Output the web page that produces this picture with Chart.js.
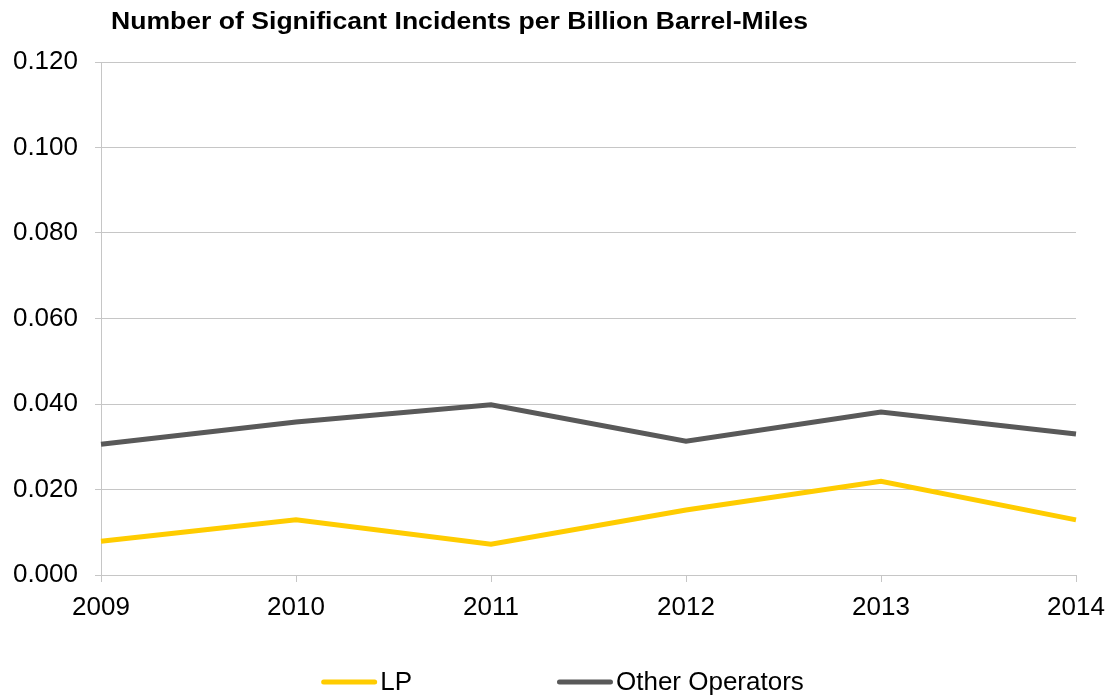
<!DOCTYPE html>
<html>
<head>
<meta charset="utf-8">
<script src="https://cdn.jsdelivr.net/npm/chart.js@4.4.1/dist/chart.umd.min.js"></script>
<style>
  html, body { margin: 0; padding: 0; background: #ffffff; }
  #wrap { width: 1111px; height: 698px; }
</style>
</head>
<body>
<div id="wrap"><canvas id="c" width="1111" height="698"></canvas></div>
<script>
// Incident rates per billion barrel-miles, by year
const years = ['2009', '2010', '2011', '2012', '2013', '2014'];
const lpValues = [0.0079, 0.0129, 0.0072, 0.0152, 0.0219, 0.0129];
const otherOperatorValues = [0.0306, 0.0358, 0.0398, 0.0313, 0.0381, 0.0330];
const yTickValues = [0, 0.02, 0.04, 0.06, 0.08, 0.10, 0.12];
const seriesNames = ['LP', 'Other Operators'];
const chartTitle = 'Number of Significant Incidents per Billion Barrel-Miles';

const FONT = '"Liberation Sans", Arial, Helvetica, sans-serif';
const GRID = '#c6c6c6';

// Bold heading drawn just right of the value axis
const titlePlugin = {
  id: 'headingText',
  afterDraw(chart) {
    const ctx = chart.ctx;
    ctx.save();
    ctx.font = 'bold 23px ' + FONT;
    ctx.fillStyle = '#000000';
    ctx.textBaseline = 'alphabetic';
    ctx.textAlign = 'left';
    const x = chart.chartArea.left + 10;
    const targetWidth = 697;
    const w = ctx.measureText(chartTitle).width;
    ctx.translate(x, 28.5);
    ctx.scale(targetWidth / w, 1);
    ctx.fillText(chartTitle, 0, 0);
    ctx.restore();
  }
};

// Line-swatch legend centred under the plot
const legendPlugin = {
  id: 'lineLegend',
  afterDraw(chart) {
    const ctx = chart.ctx;
    ctx.save();
    ctx.font = '26px ' + FONT;
    ctx.textBaseline = 'middle';
    ctx.textAlign = 'left';
    const swatch = 56, gap = 3, itemGap = 145;
    const items = chart.data.datasets.map(ds => ({
      label: ds.label, color: ds.borderColor,
      w: swatch + gap + ctx.measureText(ds.label).width
    }));
    const total = items.reduce((a, it) => a + it.w, 0) + itemGap * (items.length - 1);
    let x = (chart.width - total) / 2 + 7;
    const y = 682;
    items.forEach(it => {
      ctx.strokeStyle = it.color;
      ctx.lineWidth = 5;
      ctx.lineCap = 'round';
      ctx.beginPath();
      ctx.moveTo(x + 2.5, y);
      ctx.lineTo(x + swatch - 2.5, y);
      ctx.stroke();
      ctx.fillStyle = '#000000';
      ctx.fillText(it.label, x + swatch + gap, y + 1);
      x += it.w + itemGap;
    });
    ctx.restore();
  }
};

new Chart(document.getElementById('c'), {
  type: 'line',
  data: {
    labels: years,
    datasets: [
      {
        label: seriesNames[0],
        data: lpValues,
        borderColor: '#ffcc00',
        backgroundColor: '#ffcc00',
        borderWidth: 5,
        pointRadius: 0,
        tension: 0,
        fill: false
      },
      {
        label: seriesNames[1],
        data: otherOperatorValues,
        borderColor: '#595959',
        backgroundColor: '#595959',
        borderWidth: 5,
        pointRadius: 0,
        tension: 0,
        fill: false
      }
    ]
  },
  options: {
    responsive: false,
    animation: false,
    devicePixelRatio: 1,
    layout: { padding: { top: 62, left: 0, right: 35, bottom: 0 } },
    plugins: {
      legend: { display: false },
      title: { display: false },
      tooltip: { enabled: false }
    },
    scales: {
      x: {
        type: 'category',
        offset: false,
        afterFit(scale) {
          scale.height = 123;
          scale.paddingLeft = 0;
          scale.paddingRight = 0;
        },
        grid: {
          display: true,
          drawOnChartArea: false,
          drawTicks: true,
          tickLength: 7,
          color: GRID,
          lineWidth: 1
        },
        border: { display: true, color: GRID, width: 1 },
        ticks: {
          color: '#000000',
          font: { family: FONT, size: 26 },
          padding: 10,
          maxRotation: 0,
          autoSkip: false
        }
      },
      y: {
        min: 0,
        max: 0.12,
        afterFit(scale) { scale.width = 101; },
        afterBuildTicks(scale) { scale.ticks = yTickValues.map(v => ({ value: v })); },
        grid: {
          color: GRID,
          lineWidth: 1,
          drawTicks: true,
          tickLength: 6
        },
        border: { display: true, color: GRID, width: 1 },
        ticks: {
          color: '#000000',
          font: { family: FONT, size: 26 },
          padding: 17,
          callback: v => Number(v).toFixed(3)
        }
      }
    }
  },
  plugins: [titlePlugin, legendPlugin]
});
</script>
</body>
</html>
